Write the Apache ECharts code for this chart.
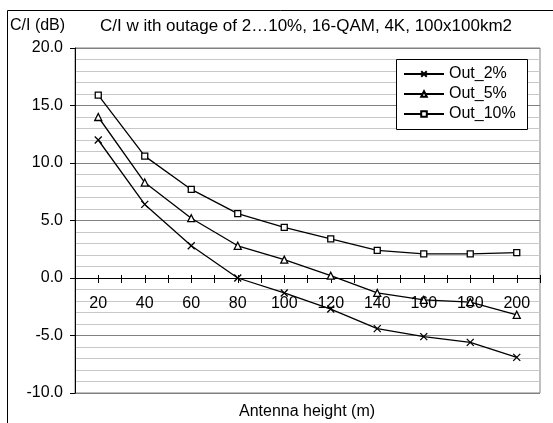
<!DOCTYPE html>
<html>
<head>
<meta charset="utf-8">
<script src="https://cdn.jsdelivr.net/npm/echarts@6/dist/echarts.min.js"></script>
<style>html,body{margin:0;padding:0;background:#fff}#c{width:553px;height:423px}</style>
</head>
<body>
<div id="c"></div>
<script>
const heights = [20, 40, 60, 80, 100, 120, 140, 160, 180, 200];
const out2 = [12.0, 6.4, 2.8, 0.0, -1.3, -2.7, -4.4, -5.1, -5.6, -6.9];
const out5 = [14.0, 8.3, 5.2, 2.8, 1.6, 0.2, -1.3, -1.9, -2.1, -3.2];
const out10 = [15.9, 10.6, 7.7, 5.6, 4.4, 3.4, 2.4, 2.1, 2.1, 2.2];
const seriesNames = ['Out_2%', 'Out_5%', 'Out_10%'];
const yTicks = [-10, -5, 0, 5, 10, 15, 20];
const titleText = 'C/I w ith outage of 2\u202610%, 16-QAM, 4K, 100x100km2';
const yTitle = 'C/I (dB)';
const xTitle = 'Antenna height (m)';

const FONT = "'Liberation Sans', Arial, sans-serif";
const chart = echarts.init(document.getElementById('c'));
const pair = arr => heights.map((h, i) => [h, arr[i]]);
const xPath = 'path://M0,0L10,10M0,10L10,0';
const symbols = [xPath, 'triangle', 'rect'];
const symSizes = [7, 7, 6];
const datas = [out2, out5, out10];

// grid geometry
const gridTop = 48, gridBottom = 30, chartH = 423;
const plotH = chartH - gridTop - gridBottom;
const yMin = yTicks[0], yMax = yTicks[yTicks.length - 1];
const zeroFromBottom = plotH * (0 - yMin) / (yMax - yMin);
const zeroFromTop = plotH - zeroFromBottom;

const option = {
  animation: false,
  textStyle: { fontFamily: FONT },
  title: [
    { text: titleText, left: 100, top: 18, textStyle: { fontFamily: FONT, fontSize: 17, fontWeight: 'normal', color: '#000' }, padding: 0 },
    { text: yTitle, left: 10, top: 18, textStyle: { fontFamily: FONT, fontSize: 16, fontWeight: 'normal', color: '#000' }, padding: 0 }
  ],
  graphic: [
    { type: 'rect', shape: { x: 7.5, y: 10.5, width: 700, height: 600 }, style: { fill: 'none', stroke: '#000', lineWidth: 1 }, z: 10, silent: true },
    { type: 'rect', shape: { x: 396.5, y: 59.5, width: 131, height: 70 }, style: { fill: '#fff', stroke: '#000', lineWidth: 1 }, z: 3, silent: true },
    { type: 'text', x: 307, y: 412, style: { text: xTitle, fontFamily: FONT, fontSize: 16, fill: '#000', textAlign: 'center', textVerticalAlign: 'middle' }, z: 10, silent: true }
  ],
  legend: {
    orient: 'vertical', left: 403, top: 66, padding: 0, itemWidth: 40, itemHeight: 7, itemGap: 4, z: 5,
    textStyle: { fontFamily: FONT, fontSize: 16, color: '#000' },
    data: seriesNames
  },
  grid: { left: 75, right: 13, top: gridTop, bottom: gridBottom, show: true, borderColor: '#808080', borderWidth: 1, backgroundColor: 'transparent' },
  xAxis: [
    {
      type: 'value', min: 10, max: 210, interval: 10, position: 'bottom', offset: -zeroFromBottom,
      axisLine: { onZero: false, lineStyle: { color: '#000', width: 1 } },
      axisTick: { show: true, length: 5, lineStyle: { color: '#000' } },
      axisLabel: { margin: 18, fontFamily: FONT, fontSize: 16, color: '#000', showMinLabel: true, showMaxLabel: true,
        formatter: v => heights.includes(v) ? String(v) : '' },
      splitLine: { show: false }
    },
    {
      type: 'value', min: 10, max: 210, interval: 10, position: 'top', offset: -zeroFromTop,
      axisLine: { onZero: false, lineStyle: { color: '#000', width: 1 } },
      axisTick: { show: true, length: 3, lineStyle: { color: '#000' } },
      axisLabel: { show: false },
      splitLine: { show: false }
    }
  ],
  yAxis: {
    type: 'value', min: yMin, max: yMax, interval: 5,
    axisLine: { show: true, onZero: false, lineStyle: { color: '#000', width: 1 } },
    axisTick: { show: true, length: 5, lineStyle: { color: '#000' } },
    axisLabel: { margin: 12, fontFamily: FONT, fontSize: 16, color: '#000', formatter: v => v.toFixed(1) },
    splitLine: { show: true, lineStyle: { color: '#808080', width: 1 } },
    minorTick: { show: false, splitNumber: 5 },
    minorSplitLine: { show: true, lineStyle: { color: '#c8c8c8', width: 1 } }
  },
  series: datas.map((d, i) => ({
    name: seriesNames[i], type: 'line', xAxisIndex: 0, data: pair(d),
    symbol: symbols[i], symbolSize: symSizes[i],
    lineStyle: { color: '#000', width: 1.3 },
    itemStyle: { color: '#fff', borderColor: '#000', borderWidth: 1.3 },
    z: 4
  }))
};
chart.setOption(option);
</script>
</body>
</html>
